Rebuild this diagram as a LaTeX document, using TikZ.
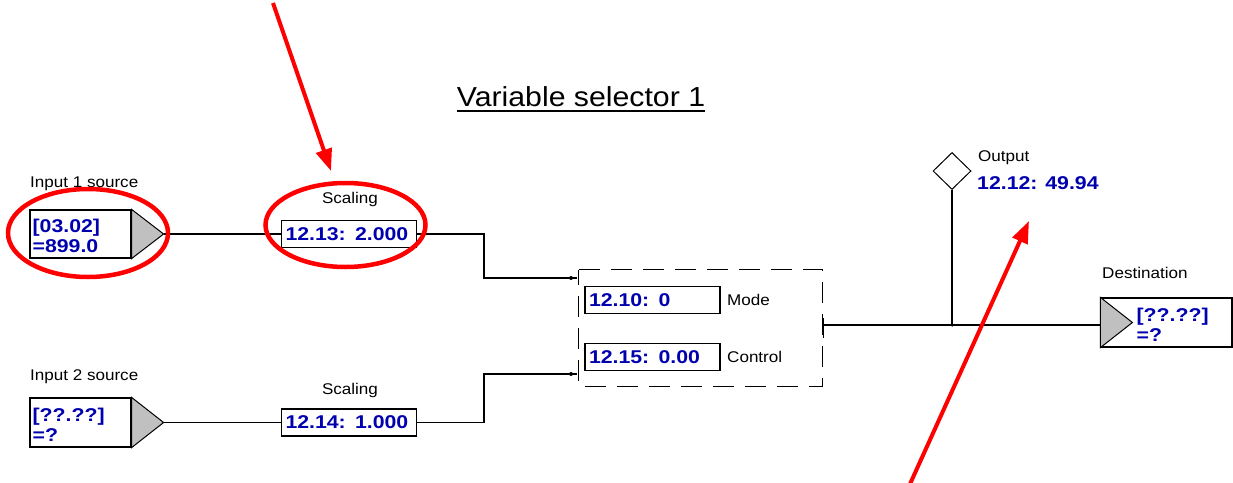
\documentclass[tikz,border=0pt]{standalone}
\usepackage{fontspec}
\usetikzlibrary{calc,arrows.meta,shapes.geometric}
\newfontfamily\labfont[FakeStretch=1.1]{Liberation Sans}
\newfontfamily\valfont[FakeStretch=1.15]{Liberation Sans}
\definecolor{valblue}{RGB}{0,0,175}
\definecolor{srcgray}{RGB}{192,192,192}
\definecolor{markred}{RGB}{255,0,0}

\begin{document}
\begin{tikzpicture}[x=1pt,y=-1pt,
  wire/.style={line width=1.2pt,black},
  lbl/.style={inner sep=0pt,anchor=west,font=\labfont\fontsize{15.5}{18}\selectfont},
  val/.style={inner sep=0pt,text=valblue,align=left,
    font=\valfont\bfseries\fontsize{18.5}{20}\selectfont},
  parbox/.style={draw,line width=1.2pt,inner xsep=4pt,inner ysep=0pt,
    minimum height=27pt,text width=127pt,align=left,text=valblue,
    font=\valfont\bfseries\fontsize{18.5}{20}\selectfont},
  srcbox/.style={draw,line width=1.2pt,minimum width=101pt,minimum height=48pt,inner sep=0pt},
  tri/.style={draw,line width=1pt,fill=srcgray},
  jdot/.style={circle,fill=black,inner sep=0pt,minimum size=4pt},
  selframe/.style={line width=1.2pt,dash pattern=on 21pt off 11pt},
  redring/.style={draw=markred,line width=4.5pt},
  redarrow/.style={draw=markred,line width=4pt,-{Triangle[length=22pt,width=16pt]}}
]
\useasboundingbox (0,0) rectangle (1233,482);

% title
\node[inner sep=0pt,font=\labfont\fontsize{27.5}{30}\selectfont] (title) at (581,97) {Variable selector 1};
\draw[line width=2pt] ($(title.south west)+(0,4)$) -- ($(title.south east)+(0,4)$);

% input 1 source
\node[lbl] (in1l) at (30,184) {Input 1 source};
\node[srcbox] (in1) at (80.5,234) {};
\node[val,anchor=west] (in1v) at ($(in1.west)+(3,2)$) {[03.02]\\=899.0};
\coordinate (in1tip) at ($(in1.east)+(32,0)$);
\filldraw[tri] (in1.north east) -- (in1tip) -- (in1.south east) -- cycle;

% input 2 source
\node[lbl] (in2l) at (30,377) {Input 2 source};
\node[srcbox,minimum height=49pt] (in2) at (80.5,422.5) {};
\node[val,anchor=west] (in2v) at ($(in2.west)+(3,2.5)$) {[??.??]\\=?};
\coordinate (in2tip) at ($(in2.east)+(32,0)$);
\filldraw[tri] (in2.north east) -- (in2tip) -- (in2.south east) -- cycle;

% scaling parameters
\node[lbl,anchor=center] (sc1l) at (350,199) {Scaling};
\node[parbox] (sc1) at (349,234) {12.13: 2.000};
\node[lbl,anchor=center] (sc2l) at (350,390) {Scaling};
\node[parbox] (sc2) at (349,422.5) {12.14: 1.000};

% selector block
\node[minimum width=243pt,minimum height=116pt,inner sep=0pt] (sel) at (700.5,328) {};
\draw[selframe] (sel.north west) -- (sel.north east) -- (sel.south east)
  -- (sel.south west) -- cycle;
\node[parbox] (mode) at (652.5,300) {12.10: 0};
\node[lbl] (model) at (727,300) {Mode};
\node[parbox] (ctrl) at (652.5,357) {12.15: 0.00};
\node[lbl] (ctrll) at (727,357) {Control};

% inputs into the selector
\coordinate (m1) at (577,278);
\coordinate (m2) at (577,374);
\draw[wire] (in1tip) -- (sc1.west);
\draw[wire] (in2tip) -- (sc2.west);
\draw[wire] (sc1.east) -| ($(m1)+(-93,0)$) -- (m1);
\draw[wire] (sc2.east) -| ($(m2)+(-93,0)$) -- (m2);
\node[jdot] (m1d) at ($(m1)+(-6,0)$) {};
\node[jdot] (m2d) at ($(m2)+(-6,0)$) {};

% output
\coordinate (selout) at ($(sel.east)+(1,-3)$);
\draw[wire] ($(selout)+(0,-7)$) -- ($(selout)+(0,13)$);
\node[jdot,minimum size=3.5pt] (jn) at (952,325) {};
\node[draw,diamond,line width=1pt,minimum width=38pt,minimum height=37pt,inner sep=0pt] (outd) at (952,171) {};
\draw[wire] (jn.center) -- (outd.south);
\node[lbl] (outl) at (978,158) {Output};
\node[val,anchor=west] (outv) at (977,183) {12.12: 49.94};

% destination
\node[lbl] (destl) at (1102,273) {Destination};
\node[srcbox,minimum width=131pt,minimum height=49pt] (dest) at (1166.5,322.5) {};
\coordinate (desttip) at ($(dest.west)+(32,0)$);
\filldraw[tri] (dest.north west) -- (desttip) -- (dest.south west) -- cycle;
\node[val,anchor=west] (destv) at ($(dest.west)+(36,2)$) {[??.??]\\=?};
\draw[wire] (selout) -- (selout -| dest.west);

% red highlights
\draw[redring] (88,233) ellipse [x radius=80pt, y radius=44pt];
\draw[redring] (345.5,225) ellipse [x radius=80pt, y radius=42pt];
\coordinate (a1s) at (273,3);
\coordinate (a1e) at (331,171);
\coordinate (a2s) at (910,484);
\coordinate (a2e) at (1029,221);
\draw[redarrow] (a1s) -- (a1e);
\draw[redarrow] (a2s) -- (a2e);
\end{tikzpicture}
\end{document}
